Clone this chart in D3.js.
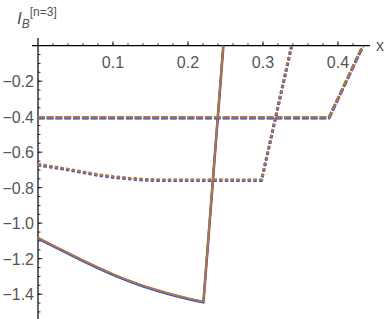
<!DOCTYPE html>
<html><head><meta charset="utf-8">
<script src="https://cdn.jsdelivr.net/npm/d3@7"></script>
<style>body{margin:0;background:#fff}svg{display:block}</style>
</head><body>
<svg id="c" width="388" height="319"></svg>
<script>
// Data
const solidX = [0, 0.02, 0.04, 0.06, 0.08, 0.10, 0.12, 0.14, 0.16, 0.18, 0.20, 0.2205, 0.247];
const solidY = [-1.082, -1.125, -1.167, -1.209, -1.249, -1.287, -1.321, -1.352, -1.378, -1.402, -1.423, -1.442, 0];
const dottedX = [0, 0.02, 0.04, 0.06, 0.08, 0.10, 0.12, 0.14, 0.16, 0.298, 0.338];
const dottedY = [-0.668, -0.681, -0.695, -0.710, -0.726, -0.737, -0.745, -0.752, -0.755, -0.755, 0];
const dashedX = [0, 0.388, 0.433];
const dashedY = [-0.403, -0.403, 0];
const xTicks = [0.1, 0.2, 0.3, 0.4];
const xTickLabels = ["0.1", "0.2", "0.3", "0.4"];
const yTicks = [-0.2, -0.4, -0.6, -0.8, -1.0, -1.2, -1.4];
const yTickLabels = ["\u22120.2", "\u22120.4", "\u22120.6", "\u22120.8", "\u22121.0", "\u22121.2", "\u22121.4"];
const seriesColors = ["#e04030", "#4cbf4c", "#3a4de0", "#a8784c"];

const svg = d3.select("#c");
const x = d3.scaleLinear().domain([0, 0.4427]).range([38, 370]);
const y = d3.scaleLinear().domain([0, -1.55]).range([45.7, 320.8]);
const font = "'Liberation Sans', Arial, sans-serif";
const gray = "#555";

// axes lines
svg.append("line").attr("x1", 32).attr("x2", x(0.4427)).attr("y1", y(0)).attr("y2", y(0))
  .attr("stroke", "#000").attr("stroke-width", 1.2);
svg.append("line").attr("x1", x(0)).attr("x2", x(0)).attr("y1", 38).attr("y2", 319)
  .attr("stroke", "#000").attr("stroke-width", 1.2);

// x ticks (pointing up)
const xMinor = d3.range(0.02, 0.44, 0.02);
svg.selectAll(".xm").data(xMinor).enter().append("line")
  .attr("x1", d => x(d)).attr("x2", d => x(d)).attr("y1", y(0)).attr("y2", y(0) - 2.5)
  .attr("stroke", "#000").attr("stroke-width", 0.8);
svg.selectAll(".xM").data(xTicks).enter().append("line")
  .attr("x1", d => x(d)).attr("x2", d => x(d)).attr("y1", y(0)).attr("y2", y(0) - 4.5)
  .attr("stroke", "#000").attr("stroke-width", 0.8);
svg.selectAll(".xl").data(xTicks).enter().append("text")
  .attr("x", d => x(d)).attr("y", y(0) + 22).attr("text-anchor", "middle")
  .attr("font-family", font).attr("font-size", 16).attr("fill", gray)
  .text((d, i) => xTickLabels[i]);

// y ticks (pointing right)
const yMinor = d3.range(-0.05, -1.56, -0.05);
svg.selectAll(".ym").data(yMinor).enter().append("line")
  .attr("x1", x(0)).attr("x2", x(0) + 2.5).attr("y1", d => y(d)).attr("y2", d => y(d))
  .attr("stroke", "#000").attr("stroke-width", 0.8);
svg.selectAll(".yM").data(yTicks).enter().append("line")
  .attr("x1", x(0)).attr("x2", x(0) + 4.5).attr("y1", d => y(d)).attr("y2", d => y(d))
  .attr("stroke", "#000").attr("stroke-width", 0.8);
svg.selectAll(".yl").data(yTicks).enter().append("text")
  .attr("x", x(0) - 4).attr("y", d => y(d) + 6).attr("text-anchor", "end")
  .attr("font-family", font).attr("font-size", 16).attr("fill", gray)
  .text((d, i) => yTickLabels[i]);

// axis labels
svg.append("text").attr("x", 376).attr("y", 51).attr("font-family", font).attr("font-size", 16)
  .attr("fill", gray).text("x");
const lab = svg.append("text").attr("x", 17).attr("y", 24).attr("font-family", font).attr("fill", gray);
lab.append("tspan").attr("font-size", 17).attr("font-style", "italic").text("I");
lab.append("tspan").attr("font-size", 12).attr("font-style", "italic").attr("dy", 4).text("B");
lab.append("tspan").attr("font-size", 12).attr("dy", -12).text("[n=3]");

// curves
const line = d3.line().x(d => x(d[0])).y(d => y(d[1]));
const groups = [
  {xs: solidX, ys: solidY, dash: null, w: 2},
  {xs: dottedX, ys: dottedY, dash: "3,2.7", w: 2.6},
  {xs: dashedX, ys: dashedY, dash: "6.5,2.3", w: 2.6}
];
const offsets = [[0.4, 0.4], [-0.3, 0.6], [0, 1], [0, 0]];
groups.forEach(g => {
  const pts = g.xs.map((v, i) => [v, g.ys[i]]);
  seriesColors.forEach((c, k) => {
    svg.append("path").datum(pts).attr("d", line)
      .attr("transform", `translate(${offsets[k][0]},${offsets[k][1]})`)
      .attr("fill", "none").attr("stroke", c).attr("stroke-width", g.w)
      .attr("stroke-dasharray", g.dash);
  });
});
</script>
</body></html>
